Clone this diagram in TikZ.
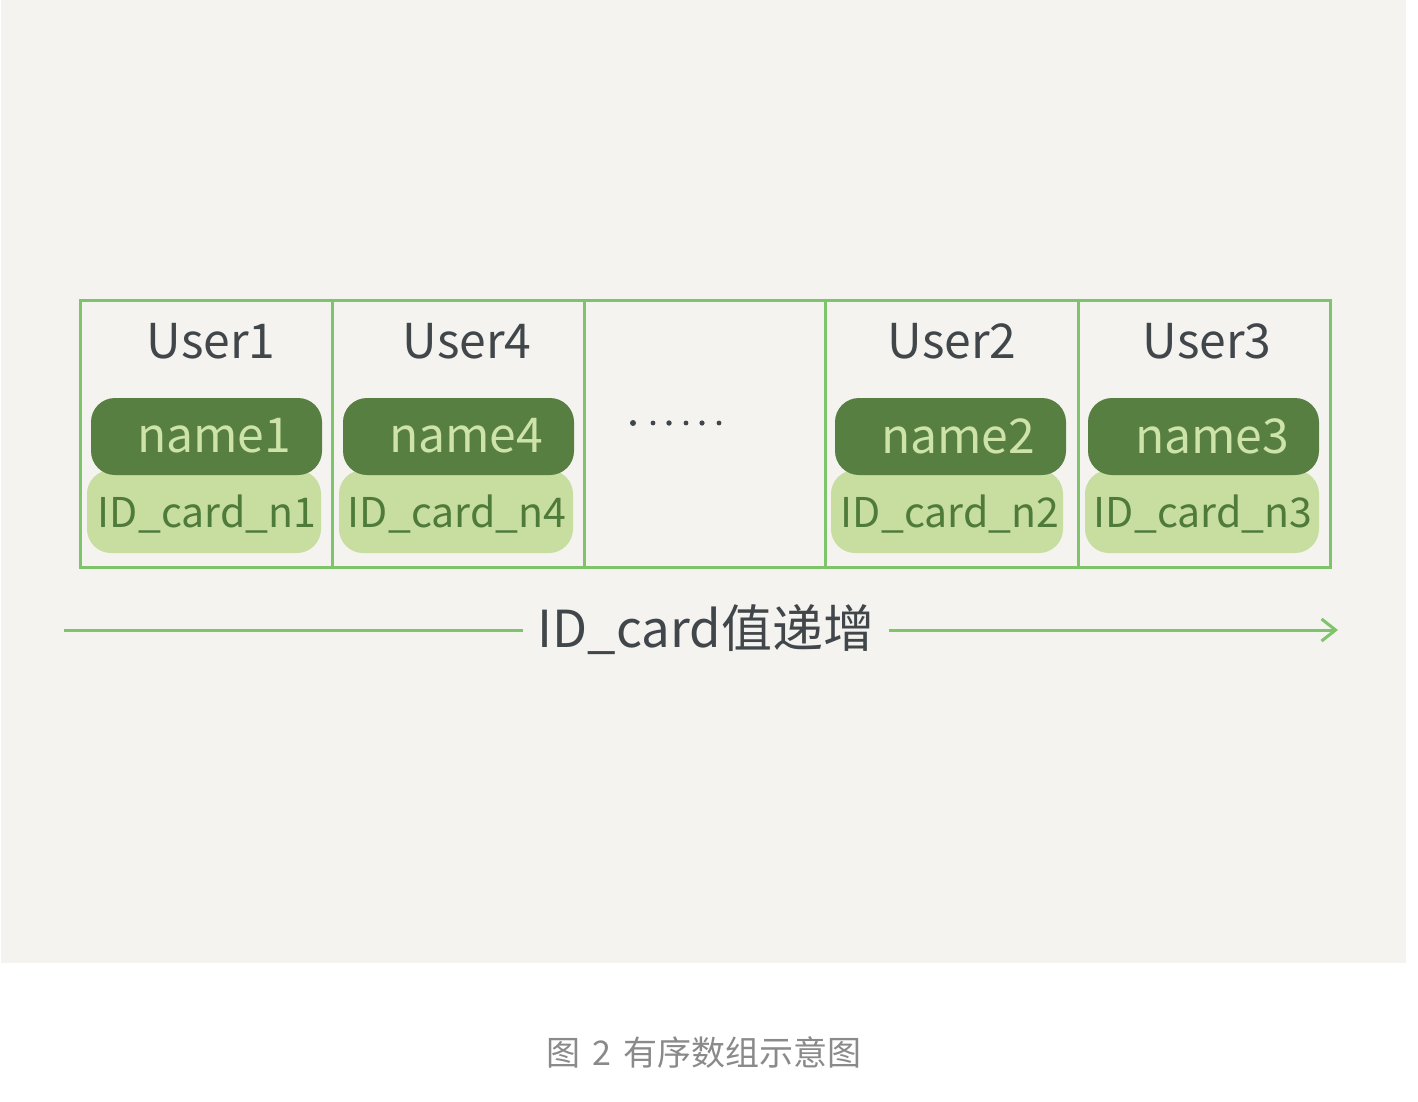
\documentclass[tikz,border=0pt]{standalone}
\usepackage{fontspec}
\setmainfont{Noto Sans CJK SC}
\usetikzlibrary{arrows.meta}
\definecolor{bggray}{HTML}{F4F3EF}
\definecolor{gline}{HTML}{7EC46A}
\definecolor{darkblob}{HTML}{587F42}
\definecolor{lightblob}{HTML}{C8DDA0}
\definecolor{darktxt}{HTML}{4E7A3A}
\definecolor{lighttxt}{HTML}{CDE3A8}
\definecolor{usertxt}{HTML}{40464A}
\definecolor{captxt}{HTML}{8A8A8A}
\tikzset{
  cellbox/.style={draw=gline, line width=1.5pt},
  userlbl/.style={text=usertxt, font=\fontsize{24}{28}\selectfont, inner sep=0pt},
  namelbl/.style={text=lighttxt, font=\fontsize{24}{28}\selectfont, inner sep=0pt},
  idlbl/.style={text=darktxt, font=\fontsize{20.5}{24}\selectfont, inner sep=0pt},
  nameblob/.style={fill=darkblob, rounded corners=12pt},
  idblob/.style={fill=lightblob, rounded corners=12pt},
  axisline/.style={draw=gline, line width=1.5pt},
}
\begin{document}
\begin{tikzpicture}[x=0.5pt, y=-0.5pt]
\useasboundingbox[fill=white] (0,0) rectangle (1418,1102);
\fill[bggray] (1,0) rectangle (1406,963);
% cells
\node[cellbox, minimum width=126pt, minimum height=133.5pt, inner sep=0pt] (c1) at (206,433.5) {};
\node[cellbox, minimum width=126pt, minimum height=133.5pt, inner sep=0pt] (c2) at (458,433.5) {};
\node[cellbox, minimum width=120.5pt, minimum height=133.5pt, inner sep=0pt] (c3) at (704.5,433.5) {};
\node[cellbox, minimum width=126.5pt, minimum height=133.5pt, inner sep=0pt] (c4) at (951.5,433.5) {};
\node[cellbox, minimum width=126pt, minimum height=133.5pt, inner sep=0pt] (c5) at (1204,433.5) {};
% user labels
\node[userlbl] (u1) at (211,341) {User1};
\node[userlbl] (u4) at (467,341) {User4};
\node[userlbl] (u2) at (952,341) {User2};
\node[userlbl] (u3) at (1207,341) {User3};
% blobs cell1
\path[idblob] (87,470) rectangle (321,553);
\path[nameblob] (91,398) rectangle (322,475);
% cell2
\path[idblob] (339,470) rectangle (573,553);
\path[nameblob] (343,398) rectangle (574,475);
% cell4
\path[idblob] (831,470) rectangle (1063,553);
\path[nameblob] (835,398) rectangle (1066,475);
% cell5
\path[idblob] (1085,470) rectangle (1319,553);
\path[nameblob] (1088,398) rectangle (1319,475);
% name labels
\node[namelbl] (n1) at (214,436) {name1};
\node[namelbl] (n4) at (466,436) {name4};
\node[namelbl] (n2) at (958,436) {name2};
\node[namelbl] (n3) at (1212,436) {name3};
% id labels
\node[idlbl] (i1) at (207,514) {ID\_card\_n1};
\node[idlbl] (i4) at (457,514) {ID\_card\_n4};
\node[idlbl] (i2) at (950,514) {ID\_card\_n2};
\node[idlbl] (i3) at (1203,514) {ID\_card\_n3};
% dots
\foreach \x/\r in {633/3, 653/2.4, 669/2.7, 686/2.4, 702/2.6, 719/2.4}
  \fill[usertxt] (\x,423) circle[radius=\r];
% axis
\coordinate (a0) at (64,630);
\coordinate (a1) at (1338,630);
\node[text=usertxt, font=\fontsize{25.5}{30}\selectfont, inner ysep=0pt, inner xsep=7pt] (ax) at (706,630) {ID\_card值递增};
\draw[axisline] (a0) -- (ax.west);
\draw[axisline, -{Straight Barb[length=7pt, width=11pt, line width=1.5pt]}] (ax.east) -- (a1);
% caption
\node[text=captxt, font=\fontsize{17}{20}\selectfont, inner sep=0pt] (cap) at (704,1052) {图\hspace{6pt}2\hspace{6pt}有序数组示意图};
\end{tikzpicture}
\end{document}
